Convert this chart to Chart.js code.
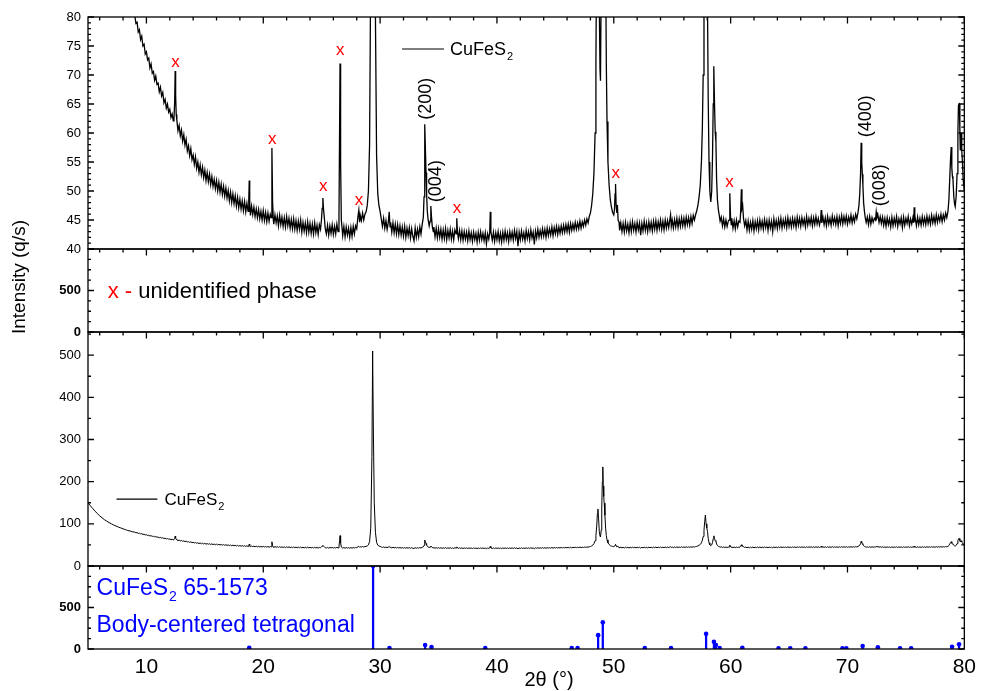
<!DOCTYPE html>
<html>
<head>
<meta charset="utf-8">
<script src="https://cdn.jsdelivr.net/npm/chart.js@4.4.1/dist/chart.umd.min.js"></script>
<style>
  html, body { margin: 0; padding: 0; background: #fff; }
</style>
</head>
<body>
<canvas id="xrd" width="982" height="691"></canvas>
<script>
// measured pattern: 2theta (deg) and counts (q/s), read off the plot
// each row of scanAngle pairs with the same row of scanCounts
const scanAngle = [
  5.0, 5.2, 5.4, 5.6, 5.8, 6.0, 6.2, 6.4, 6.6, 6.8,
  7.0, 7.2, 7.4, 7.6, 7.8, 8.0, 8.2, 8.4, 8.6, 8.8,
  9.0, 9.1, 9.2, 9.3, 9.4, 9.5, 9.6, 9.7, 9.8, 9.9,
  10.0, 10.1, 10.2, 10.3, 10.4, 10.5, 10.6, 10.7, 10.8, 10.9,
  11.0, 11.1, 11.2, 11.3, 11.4, 11.5, 11.6, 11.7, 11.8, 11.9,
  12.0, 12.1, 12.2, 12.3, 12.36, 12.42, 12.46, 12.5, 12.55,
  12.6, 12.7, 12.8, 12.9, 13.0, 13.1, 13.2, 13.3, 13.4, 13.5,
  13.6, 13.7, 13.8, 13.9, 14.0, 14.1, 14.2, 14.3, 14.4, 14.5,
  14.6, 14.7, 14.8, 14.9, 15.0, 15.1, 15.2, 15.3, 15.4, 15.5,
  15.6, 15.7, 15.8, 15.9, 16.0, 16.1, 16.2, 16.3, 16.4, 16.5,
  16.6, 16.7, 16.8, 16.9, 17.0, 17.1, 17.2, 17.3, 17.4, 17.5,
  17.6, 17.7, 17.8, 17.9, 18.0, 18.1, 18.2, 18.3, 18.4, 18.5, 18.6,
  18.7, 18.76, 18.8, 18.84, 18.9,
  19.0, 19.1, 19.2, 19.3, 19.4, 19.5, 19.6, 19.7, 19.8, 19.9,
  20.0, 20.1, 20.2, 20.3, 20.4, 20.5, 20.6, 20.68, 20.74, 20.8, 20.86,
  20.9, 21.0, 21.1, 21.2, 21.3, 21.4, 21.5, 21.6, 21.7, 21.8,
  21.9, 22.0, 22.1, 22.2, 22.3, 22.4, 22.5, 22.6, 22.7, 22.8,
  22.9, 23.0, 23.1, 23.2, 23.3, 23.4, 23.5, 23.6, 23.7, 23.8,
  23.9, 24.0, 24.1, 24.2, 24.3, 24.4, 24.5, 24.6, 24.7, 24.8, 24.9,
  24.98, 25.04, 25.1, 25.16, 25.24, 25.3,
  25.4, 25.5, 25.6, 25.7, 25.8, 25.9, 26.0, 26.1, 26.2, 26.3, 26.4,
  26.48, 26.53, 26.57, 26.62, 26.68,
  26.8, 26.9, 27.0, 27.1, 27.2, 27.3, 27.4, 27.5, 27.6, 27.7, 27.8, 27.9,
  28.0, 28.1, 28.18, 28.25, 28.3, 28.4, 28.5, 28.6, 28.7, 28.8, 28.9,
  29.0, 29.1, 29.2, 29.3, 29.36, 29.42, 29.5, 29.6, 29.7, 29.8, 29.9, 30.0,
  30.1, 30.2, 30.3, 30.4, 30.5, 30.6, 30.7, 30.78, 30.85, 30.9,
  31.0, 31.1, 31.2, 31.3, 31.4, 31.5, 31.6, 31.7, 31.8, 31.9,
  32.0, 32.1, 32.2, 32.3, 32.4, 32.5, 32.6, 32.7, 32.8, 32.9,
  33.0, 33.1, 33.2, 33.3, 33.4, 33.5, 33.6,
  33.7, 33.76, 33.8, 33.84, 33.88, 33.93, 33.98, 34.04, 34.1, 34.2, 34.28, 34.34, 34.4, 34.46, 34.55,
  34.6, 34.7, 34.8, 34.9, 35.0, 35.1, 35.2, 35.3, 35.4, 35.5,
  35.6, 35.7, 35.8, 35.9, 36.0, 36.1, 36.2, 36.3, 36.4, 36.5,
  36.56, 36.62,
  36.7, 36.8, 36.9, 37.0, 37.1, 37.2, 37.3, 37.4, 37.5, 37.6,
  37.7, 37.8, 37.9, 38.0, 38.1, 38.2, 38.3, 38.4, 38.5, 38.6,
  38.7, 38.8, 38.9, 39.0, 39.1, 39.2, 39.3,
  39.38, 39.43, 39.48,
  39.6, 39.7, 39.8, 39.9, 40.0, 40.1, 40.2, 40.3, 40.4, 40.5,
  40.6, 40.7, 40.8, 40.9, 41.0, 41.1, 41.2, 41.3, 41.4, 41.5,
  41.6, 41.7, 41.8, 41.9, 42.0, 42.1, 42.2, 42.3, 42.4, 42.5,
  42.6, 42.7, 42.8, 42.9, 43.0, 43.1, 43.2, 43.3, 43.4, 43.5,
  43.6, 43.7, 43.8, 43.9, 44.0, 44.1, 44.2, 44.3, 44.4, 44.5,
  44.6, 44.7, 44.8, 44.9, 45.0, 45.1, 45.2, 45.3, 45.4, 45.5,
  45.6, 45.7, 45.8, 45.9, 46.0, 46.1, 46.2, 46.3, 46.4, 46.5,
  46.6, 46.7, 46.8, 46.9, 47.0, 47.1, 47.2, 47.3, 47.4, 47.5,
  47.6, 47.7, 47.8, 47.9,
  48.0, 48.1, 48.2, 48.3, 48.4, 48.47, 48.54, 48.6, 48.64, 48.7,
  48.76, 48.82, 48.86, 48.92, 48.97, 49.02, 49.06, 49.1, 49.14, 49.18,
  49.24, 49.3, 49.36, 49.42, 49.5, 49.6, 49.7, 49.8, 49.9, 50.0,
  50.06, 50.11, 50.15, 50.2, 50.26, 50.31, 50.37, 50.45,
  50.5, 50.6, 50.7, 50.8, 50.9, 51.0, 51.1, 51.2, 51.3, 51.4,
  51.5, 51.6, 51.7, 51.8, 51.9, 52.0, 52.1, 52.2, 52.3, 52.4,
  52.5, 52.6, 52.7, 52.8, 52.9, 53.0, 53.1, 53.2, 53.3, 53.4,
  53.5, 53.6, 53.7, 53.8, 53.9, 54.0, 54.1, 54.2, 54.3, 54.4,
  54.5, 54.6, 54.7, 54.8, 54.86, 54.92,
  55.0, 55.1, 55.2, 55.3, 55.4, 55.5, 55.6, 55.7, 55.8, 55.9,
  56.0, 56.1, 56.2, 56.3, 56.4, 56.5, 56.6, 56.7, 56.8, 56.9,
  57.0, 57.1, 57.2, 57.3, 57.4, 57.5, 57.58, 57.65, 57.72, 57.78, 57.84, 57.9,
  57.96, 58.02, 58.08, 58.15, 58.22, 58.3, 58.38, 58.45, 58.51, 58.56,
  58.62, 58.68, 58.74, 58.8, 58.87, 58.95, 59.02, 59.1, 59.2, 59.3,
  59.4, 59.5, 59.6, 59.7, 59.8, 59.87, 59.93, 59.99, 60.05, 60.1,
  60.2, 60.3, 60.4, 60.5, 60.6, 60.7, 60.8, 60.86, 60.92, 60.97,
  61.03, 61.1, 61.2,
  61.3, 61.4, 61.5, 61.6, 61.7, 61.8, 61.9, 62.0, 62.1, 62.2,
  62.3, 62.4, 62.5, 62.6, 62.7, 62.8, 62.9, 63.0, 63.1, 63.2,
  63.3, 63.4, 63.5, 63.6, 63.7, 63.8, 63.9, 64.0, 64.1, 64.2,
  64.3, 64.4, 64.5, 64.6, 64.7, 64.8, 64.9, 65.0, 65.1, 65.2,
  65.3, 65.4, 65.5, 65.6, 65.7, 65.8, 65.9, 66.0, 66.1, 66.2,
  66.3, 66.4, 66.5, 66.6, 66.7, 66.8, 66.9, 67.0, 67.1, 67.2,
  67.3, 67.4, 67.5, 67.6, 67.7, 67.75, 67.8,
  67.9, 68.0, 68.1, 68.2, 68.3, 68.4, 68.5, 68.6, 68.7, 68.8,
  68.9, 69.0, 69.1, 69.2, 69.3, 69.4, 69.5, 69.6, 69.7, 69.8,
  69.9, 70.0, 70.1, 70.2, 70.3, 70.4, 70.5, 70.6, 70.7, 70.8,
  70.9, 70.98, 71.05, 71.12, 71.17, 71.22, 71.27, 71.32, 71.38, 71.45,
  71.52, 71.6, 71.7, 71.8, 71.9, 72.0, 72.1, 72.2, 72.3, 72.4,
  72.46, 72.52, 72.6, 72.7, 72.8, 72.9,
  73.0, 73.1, 73.2, 73.3, 73.4, 73.5, 73.6, 73.7, 73.8, 73.9,
  74.0, 74.1, 74.2, 74.3, 74.4, 74.5, 74.6, 74.7, 74.8, 74.9,
  75.0, 75.1, 75.2, 75.3, 75.4, 75.5, 75.6, 75.66, 75.71, 75.76,
  75.8, 75.9, 76.0, 76.1, 76.2, 76.3, 76.4, 76.5, 76.6, 76.7,
  76.8, 76.9, 77.0, 77.1, 77.2, 77.3, 77.4, 77.5, 77.6, 77.7,
  77.8, 77.9, 78.0, 78.1, 78.2, 78.3, 78.4, 78.5,
  78.6, 78.68, 78.75, 78.82, 78.88, 78.93, 78.98, 79.03, 79.1, 79.16,
  79.22, 79.3, 79.38, 79.45, 79.5, 79.58, 79.62, 79.66, 79.72, 79.78,
  79.84, 79.9, 80.0
];
const scanCounts = [
  150, 143, 136.5, 130, 124.5, 119, 114.5, 110, 106.5, 103,
  100, 97.2, 94.8, 92.3, 90.4, 88.1, 86.3, 84.2, 83.1, 81.2,
  80.3, 78.9, 79.1, 77.4, 77.8, 76.1, 76.7, 75.0, 75.3, 73.6,
  74.0, 72.6, 72.9, 71.2, 71.9, 70.3, 70.6, 69.1, 69.8, 68.4,
  68.6, 67.1, 67.9, 66.4, 67.0, 65.2, 65.8, 64.3, 65.0, 63.6,
  64.1, 62.7, 63.3, 62.1, 62.6, 65.5, 70.7, 66.5, 63.2,
  62.3, 60.4, 61.3, 59.5, 60.5, 58.6, 59.7, 57.9, 58.9, 56.9,
  57.8, 56.1, 57.3, 55.4, 56.2, 54.6, 55.9, 53.9, 55.0, 53.2,
  54.5, 52.8, 54.1, 52.3, 53.6, 51.8, 53.2, 51.6, 52.9, 51.1,
  52.5, 50.8, 52.0, 50.4, 51.8, 50.0, 51.5, 49.8, 51.2, 49.4,
  50.8, 49.1, 50.5, 48.8, 50.1, 48.3, 49.8, 48.0, 49.5, 47.8,
  49.2, 47.4, 48.9, 47.1, 48.6, 46.9, 48.3, 46.6, 48.2, 46.4, 47.9,
  46.5, 48.5, 51.8, 48.0, 45.8,
  47.4, 45.9, 47.2, 45.6, 46.9, 45.4, 46.8, 45.2, 46.5, 45.0,
  46.6, 44.9, 46.3, 44.7, 46.2, 44.8, 46.0, 45.4, 57.4, 48.0, 45.0,
  44.3, 45.9, 44.5, 45.7, 44.0, 45.8, 44.2, 45.5, 43.9, 45.4,
  43.8, 45.6, 44.0, 45.3, 43.6, 45.1, 43.5, 45.2, 43.4, 44.9,
  43.2, 44.8, 43.4, 45.0, 42.9, 44.6, 43.1, 44.5, 42.8, 44.7,
  42.9, 44.4, 42.7, 44.3, 42.6, 44.5, 42.8, 44.1, 42.5, 44.2, 43.4,
  45.0, 47.0, 48.8, 46.8, 45.1, 43.6,
  42.6, 44.1, 42.4, 44.0, 42.7, 44.2, 42.5, 43.9, 42.6, 44.3, 43.0,
  45.5, 60, 72.0, 55, 45.0,
  42.3, 43.9, 42.1, 43.8, 42.4, 43.6, 42.0, 43.7, 42.2, 43.9, 42.6, 44.0,
  43.5, 45.5, 46.7, 44.6, 45.8, 44.9, 46.2, 45.0, 46.0, 46.4, 47.5,
  50.0, 58, 90, 260, 510, 330, 150, 80, 56, 49.5, 47.5, 46.5,
  45.2, 43.9, 45.3, 43.6, 44.9, 43.4, 44.6, 46.4, 43.8, 44.6,
  42.9, 44.5, 42.8, 44.3, 42.6, 44.2, 42.5, 44.0, 42.4, 43.8,
  42.2, 43.9, 42.0, 43.6, 42.3, 43.7, 41.9, 43.5, 42.2, 41.4,
  43.6, 42.0, 43.4, 42.1, 43.8, 42.6, 44.2,
  45.5, 49, 55, 61.5, 57, 53.2, 49.5, 46.5, 45.2, 44.0, 44.8, 47.4, 45.5, 44.0, 43.0,
  43.8, 42.1, 43.6, 41.9, 43.5, 42.0, 43.4, 41.7, 43.3, 41.8,
  43.5, 41.6, 43.2, 41.9, 43.4, 41.7, 43.1, 41.6, 43.3, 42.6,
  45.3, 43.0,
  41.8, 43.2, 41.6, 43.1, 41.5, 43.0, 41.7, 42.9, 41.4, 43.1,
  41.6, 42.8, 41.3, 42.9, 41.6, 42.7, 41.2, 42.9, 41.5, 43.0,
  41.6, 42.7, 41.4, 42.8, 40.9, 42.6, 41.7,
  42.8, 46.4, 43.0,
  41.5, 42.9, 41.3, 42.8, 41.6, 43.0, 41.4, 42.7, 41.2, 42.9,
  41.5, 43.1, 41.6, 42.8, 41.3, 43.0, 41.7, 42.9, 41.5, 43.2,
  41.8, 43.0, 40.5, 42.9, 41.6, 43.1, 41.7, 42.8, 41.4, 43.2,
  41.8, 43.0, 41.6, 43.3, 41.9, 42.9, 40.8, 43.1, 41.9, 43.4,
  42.0, 43.2, 42.1, 43.5, 42.2, 43.4, 42.0, 43.6, 42.3, 43.5,
  42.4, 43.8, 42.3, 43.7, 42.6, 43.9, 42.5, 43.8, 42.7, 44.0,
  42.8, 44.1, 42.9, 44.2, 43.0, 44.3, 42.9, 44.4, 43.2, 44.3,
  43.3, 44.6, 43.4, 44.5, 43.5, 44.8, 43.6, 44.7, 43.9, 45.0,
  44.1, 45.2, 44.5, 45.6,
  46.2, 47.5, 49.5, 53, 60, 72, 95, 125, 135, 112,
  82, 71, 69, 85, 140, 200, 235, 190, 165, 149,
  120, 90, 72, 62, 55, 51, 48.5, 47.2, 46.3, 45.9,
  46.8, 49.5, 51.2, 47.5, 46.2, 47.6, 45.0, 44.6,
  43.2, 44.5, 43.0, 44.4, 42.9, 44.6, 43.1, 44.3, 42.8, 44.5,
  43.0, 44.7, 43.2, 44.4, 42.9, 44.6, 43.3, 44.5, 42.4, 44.4,
  43.1, 44.8, 43.2, 44.5, 43.0, 44.7, 43.3, 44.6, 43.1, 44.8,
  43.4, 44.9, 43.2, 44.7, 43.5, 45.0, 43.4, 44.8, 43.3, 45.0,
  43.6, 44.9, 43.7, 45.1, 45.9, 43.9,
  45.0, 43.6, 45.1, 43.8, 45.3, 43.7, 45.2, 43.9, 45.4, 44.0,
  45.3, 43.9, 45.5, 44.2, 45.4, 44.1, 45.6, 44.4, 45.8, 45.0,
  45.9, 46.6, 47.5, 49, 51, 55, 61, 70, 85, 105, 121, 100,
  90, 82, 66, 55, 50, 48.1, 50, 56, 65, 71.5,
  65, 60.2, 58.5, 52, 48.5, 46.8, 45.9, 44.8, 45.5, 44.0,
  45.2, 43.8, 45.0, 43.9, 44.8, 45.0, 49.6, 45.6, 44.2, 45.3,
  43.6, 44.9, 43.5, 45.0, 43.8, 44.8, 44.6, 46.5, 50.3, 47.0,
  47.5, 45.3, 44.0,
  44.9, 43.3, 44.8, 43.2, 44.6, 43.4, 44.9, 43.1, 44.7, 43.5,
  44.9, 43.3, 45.0, 43.6, 44.8, 43.4, 45.1, 43.7, 44.9, 43.2,
  45.0, 43.6, 44.8, 43.0, 45.2, 43.7, 44.9, 43.5, 45.1, 43.8,
  45.3, 43.6, 45.0, 43.9, 45.2, 43.7, 45.4, 43.9, 45.1, 43.8,
  45.3, 44.0, 45.2, 43.7, 45.5, 44.1, 45.3, 43.9, 45.4, 44.2,
  45.2, 43.8, 45.6, 44.1, 45.3, 44.3, 45.5, 44.0, 45.4, 44.2,
  45.6, 44.3, 45.3, 44.1, 45.0, 46.7, 44.5,
  45.5, 44.2, 45.4, 44.0, 45.6, 44.3, 45.3, 44.1, 45.7, 44.4,
  45.4, 44.2, 45.6, 44.0, 45.5, 44.4, 45.8, 44.3, 45.6, 44.5,
  45.7, 44.3, 45.5, 44.6, 45.9, 44.5, 45.6, 44.7, 46.0, 45.2,
  46.3, 47.5, 49.5, 53, 58.3, 55, 52.9, 51, 48, 46.5,
  45.4, 44.6, 45.5, 44.2, 45.6, 44.3, 45.4, 44.6, 45.3, 45.0,
  46.4, 45.4, 45.9, 44.6, 45.6, 44.4,
  45.5, 44.1, 45.3, 43.9, 45.4, 44.2, 45.2, 43.8, 45.5, 44.0,
  45.3, 44.2, 45.6, 43.9, 45.2, 44.3, 45.4, 43.7, 45.5, 44.1,
  45.3, 44.4, 45.6, 44.0, 45.2, 44.3, 45.4, 44.5, 47.2, 44.7,
  45.3, 44.0, 45.5, 44.2, 45.3, 44.1, 45.6, 44.3, 45.4, 44.2,
  45.7, 44.4, 45.5, 44.3, 45.8, 44.5, 45.6, 44.4, 45.9, 44.6,
  45.7, 44.8, 46.0, 44.7, 45.9, 45.0, 46.2, 45.4,
  46.5, 48.5, 52, 55.5, 57.6, 54, 52.5, 52, 49, 47.8,
  47.3, 49, 53, 60, 64.8, 65, 60, 57, 60, 57,
  55, 52, 50
];

// reference card 65-1573 (CuFeS2), relative intensity x1000
const cardAngle = [18.8, 29.4, 30.8, 33.85, 34.4, 39.0, 46.4, 46.9, 48.66, 49.06, 52.65, 54.9, 57.9, 58.57,
  58.74, 59.06, 61.0, 64.1, 65.1, 66.4, 69.57, 69.9, 71.3, 72.6, 74.5, 75.45, 78.95, 79.55];
const cardIntensity = [15, 1000, 10, 48, 24, 10, 10, 10, 167, 321, 10, 10, 183, 87,
  48, 12, 15, 8, 8, 8, 8, 8, 36, 20, 8, 8, 28, 56];

// tick labels
const xTicks = [10, 20, 30, 40, 50, 60, 70, 80];
const zoomTicks = [40, 45, 50, 55, 60, 65, 70, 75, 80];
const fullTicks = [0, 100, 200, 300, 400, 500];
const blankTicks = [0, 500];
const cardTicks = [0, 500];

// peaks marked "x" (unidentified) and hkl labels on the zoomed panel
const unknownAngle = [12.48, 20.77, 25.13, 26.58, 28.2, 36.58, 50.17, 59.9];
const unknownLevel = [72.2, 58.8, 50.7, 74.3, 48.3, 46.9, 53.1, 51.4];
const hklText = ['(200)', '(004)', '(400)', '(008)'];
const hklAngle = [33.93, 34.79, 71.62, 72.82];
const hklLevel = [65.9, 51.7, 62.9, 51.0];

const FONT = '"Liberation Sans", Arial, sans-serif';
const BLUE = '#0000ff';
const RED = '#ff0000';

function yAxis(min, max, weight, ticks, bold) {
  return {
    type: 'linear', position: 'left', stack: 'panels', stackWeight: weight,
    min: min, max: max,
    grid: { display: false, drawTicks: false },
    border: { display: false },
    afterBuildTicks: s => { s.ticks = ticks.map(v => ({ value: v })); },
    afterFit: s => { s.width = 88; },
    ticks: { color: '#000', padding: 7, autoSkip: false,
             font: { family: FONT, size: 13, weight: bold ? 'bold' : 'normal' } }
  };
}

// CuFeS2 with a subscript, returns the x where it ends
function formula(ctx, x, y, size, color) {
  ctx.fillStyle = color;
  ctx.font = size + 'px ' + FONT;
  ctx.fillText('CuFeS', x, y);
  const w = ctx.measureText('CuFeS').width;
  ctx.font = Math.round(size * 0.62) + 'px ' + FONT;
  ctx.fillText('2', x + w + 1, y + size * 0.28);
  return x + w + 1 + ctx.measureText('2').width;
}

const framePlugin = {
  id: 'frame',
  afterDatasetsDraw(chart) {
    const { ctx, chartArea: a, scales } = chart;
    const x = scales.x;
    const yA = scales.yA, yB = scales.yB, yC = scales.yC, yD = scales.yD;
    const panels = [
      { s: yA, major: 5, minor: 1 },
      { s: yB, major: 500, minor: 125 },
      { s: yC, major: 100, minor: 50 },
      { s: yD, major: 500, minor: 125 }
    ];
    ctx.save();
    ctx.strokeStyle = '#000';
    ctx.lineWidth = 1.3;
    panels.forEach(p => {
      const s = p.s;
      ctx.strokeRect(a.left, s.top, a.right - a.left, s.bottom - s.top);
      ctx.beginPath();
      for (let v = 6; v <= 80; v += 2) {
        const px = x.getPixelForValue(v);
        const len = v % 10 === 0 ? 6.5 : 3.5;
        ctx.moveTo(px, s.top);
        ctx.lineTo(px, s.top + len);
      }
      for (let v = s.min; v <= s.max + 1e-6; v += p.minor) {
        const py = s.getPixelForValue(v);
        const len = (v % p.major === 0) ? 6 : 3;
        ctx.moveTo(a.left, py); ctx.lineTo(a.left + len, py);
        ctx.moveTo(a.right, py); ctx.lineTo(a.right - len, py);
      }
      ctx.stroke();
    });

    // red x over unidentified peaks
    ctx.fillStyle = RED;
    ctx.font = '17px ' + FONT;
    ctx.textAlign = 'center';
    ctx.textBaseline = 'alphabetic';
    unknownAngle.forEach((t, i) => {
      ctx.fillText('x', x.getPixelForValue(t), yA.getPixelForValue(unknownLevel[i]) + 4.5);
    });

    // hkl labels, rotated
    ctx.fillStyle = '#000';
    ctx.font = '18px ' + FONT;
    ctx.textBaseline = 'middle';
    hklText.forEach((txt, i) => {
      ctx.save();
      ctx.translate(x.getPixelForValue(hklAngle[i]), yA.getPixelForValue(hklLevel[i]));
      ctx.rotate(-Math.PI / 2);
      ctx.fillText(txt, 0, 0);
      ctx.restore();
    });

    // legend, zoomed panel
    ctx.textAlign = 'left';
    ctx.textBaseline = 'alphabetic';
    ctx.lineWidth = 1.2;
    let ly = yA.getPixelForValue(74.48);
    ctx.beginPath();
    ctx.moveTo(x.getPixelForValue(31.88), ly);
    ctx.lineTo(x.getPixelForValue(35.47), ly);
    ctx.stroke();
    formula(ctx, x.getPixelForValue(35.98), ly + 6, 18, '#000');

    // legend, full panel
    ly = yC.getPixelForValue(158.8);
    ctx.beginPath();
    ctx.moveTo(x.getPixelForValue(7.44), ly);
    ctx.lineTo(x.getPixelForValue(10.94), ly);
    ctx.stroke();
    formula(ctx, x.getPixelForValue(11.54), ly + 6, 17, '#000');

    // note in the blank panel
    ctx.font = '22px ' + FONT;
    ctx.fillStyle = RED;
    const nx = x.getPixelForValue(6.68), ny = yB.getPixelForValue(410);
    ctx.fillText('x -', nx, ny);
    const w = ctx.measureText('x - ').width;
    ctx.fillStyle = '#000';
    ctx.fillText('unidentified phase', nx + w, ny);

    // reference card text
    const cx = x.getPixelForValue(5.73);
    const end = formula(ctx, cx, yD.getPixelForValue(650), 23, BLUE);
    ctx.font = '23px ' + FONT;
    ctx.fillText(' 65-1573', end, yD.getPixelForValue(650));
    ctx.fillText('Body-centered tetragonal', cx, yD.getPixelForValue(205));

    // axis titles
    ctx.fillStyle = '#000';
    ctx.font = '20px ' + FONT;
    ctx.textAlign = 'center';
    ctx.fillText('2\u03b8 (\u00b0)', x.getPixelForValue(44.46), a.bottom + 37);
    ctx.save();
    ctx.translate(20, 277);
    ctx.rotate(-Math.PI / 2);
    ctx.font = '19px ' + FONT;
    ctx.textBaseline = 'middle';
    ctx.fillText('Intensity (q/s)', 0, 0);
    ctx.restore();
    ctx.restore();
  }
};

const scanPoints = () => scanAngle.map((t, i) => ({ x: t, y: scanCounts[i] }));
const cardPoints = () => cardAngle.map((t, i) => ({ x: t, y: cardIntensity[i] }));

new Chart(document.getElementById('xrd'), {
  type: 'line',
  data: {
    datasets: [
      { data: scanPoints(), yAxisID: 'yA', borderColor: '#000', borderWidth: 1.3, pointRadius: 0, tension: 0 },
      { data: scanPoints(), yAxisID: 'yC', borderColor: '#000', borderWidth: 1, pointRadius: 0, tension: 0 },
      { type: 'bar', data: cardPoints(), yAxisID: 'yD', backgroundColor: BLUE, barThickness: 1.6, grouped: false },
      { data: cardPoints(), yAxisID: 'yD', showLine: false, pointRadius: 2.3,
        pointBackgroundColor: BLUE, pointBorderWidth: 0, borderColor: BLUE }
    ]
  },
  options: {
    responsive: false,
    animation: false,
    devicePixelRatio: 1,
    layout: { padding: { top: 17, right: 16, left: 0, bottom: 0 } },
    plugins: { legend: { display: false }, tooltip: { enabled: false } },
    scales: {
      x: {
        type: 'linear', min: 5, max: 80, offset: false,
        grid: { display: false, drawTicks: false, offset: false },
        border: { display: false },
        afterBuildTicks: s => { s.ticks = xTicks.map(v => ({ value: v })); },
        afterFit: s => { s.height = 42; },
        ticks: { color: '#000', padding: 6, maxRotation: 0, autoSkip: false, font: { family: FONT, size: 21 } }
      },
      yD: yAxis(0, 1000, 83, cardTicks, true),
      yC: yAxis(0, 555, 234, fullTicks, false),
      yB: yAxis(0, 1000, 83, blankTicks, true),
      yA: yAxis(40, 80, 232, zoomTicks, false)
    }
  },
  plugins: [framePlugin]
});
</script>
</body>
</html>
